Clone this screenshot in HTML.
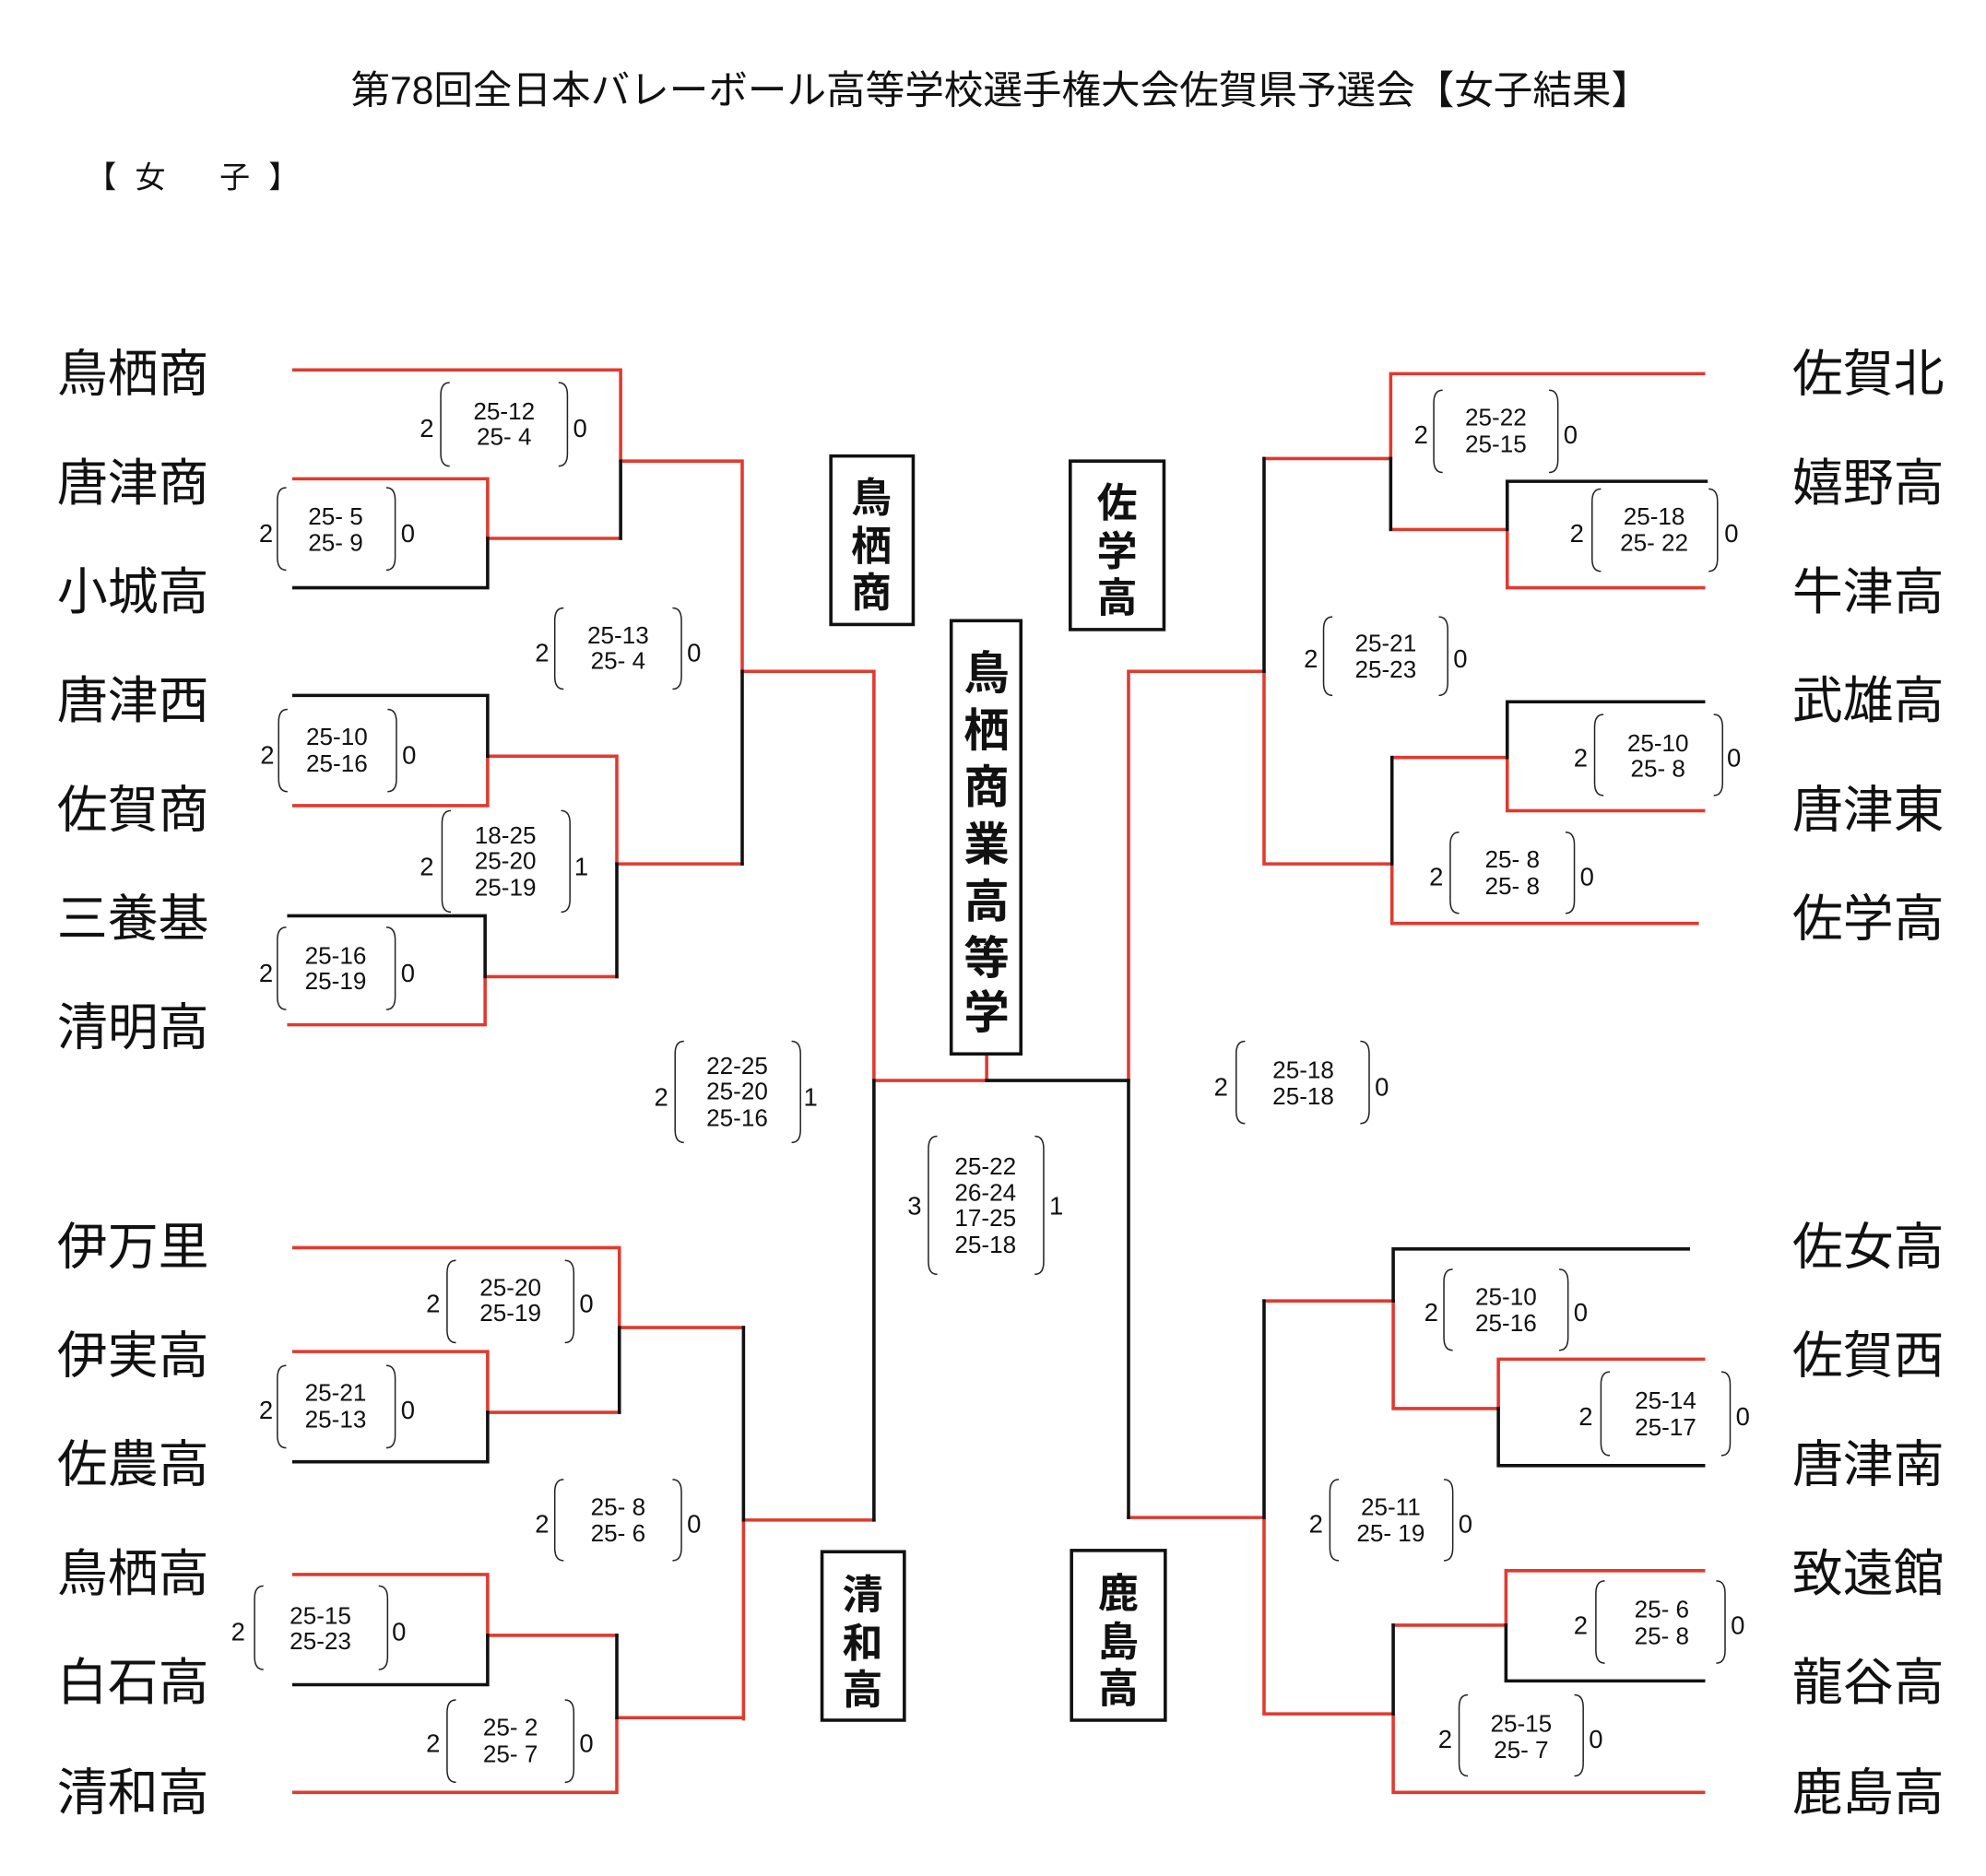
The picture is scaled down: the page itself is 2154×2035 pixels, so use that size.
<!DOCTYPE html>
<html><head><meta charset="utf-8"><style>
html,body{margin:0;padding:0;background:#fff}
svg{display:block}
text{font-family:"Liberation Sans","Noto Sans CJK JP",sans-serif;fill:#111}
.n{font-size:40px}
.s{font-size:19px}
.d{font-size:20px}
.b{font-size:32px;font-weight:bold}
.R{stroke:#e03a2f;stroke-width:2.6;fill:none;stroke-linecap:square}
.K{stroke:#111;stroke-width:2.6;fill:none;stroke-linecap:square}
.p{stroke:#222;stroke-width:1.1;fill:none}
</style></head><body>
<svg width="2154" height="2035" viewBox="0 0 1568 1481" preserveAspectRatio="none" xmlns="http://www.w3.org/2000/svg">
<text x="790" y="82" font-size="31" text-anchor="middle">第78回全日本バレーボール高等学校選手権大会佐賀県予選会【女子結果】</text>
<text x="68" y="148" font-size="24" xml:space="preserve" letter-spacing="4">【 女　 子 】</text>

<g class="n">
<text x="45" y="309">鳥栖商</text><text x="45" y="395">唐津商</text><text x="45" y="481">小城高</text><text x="45" y="567">唐津西</text><text x="45" y="653">佐賀商</text><text x="45" y="739">三養基</text><text x="45" y="825">清明高</text>
<text x="45" y="998">伊万里</text><text x="45" y="1084">伊実高</text><text x="45" y="1170">佐農高</text><text x="45" y="1256">鳥栖高</text><text x="45" y="1342">白石高</text><text x="45" y="1429">清和高</text>
<text x="1415" y="309">佐賀北</text><text x="1415" y="395">嬉野高</text><text x="1415" y="481">牛津高</text><text x="1415" y="567">武雄高</text><text x="1415" y="653">唐津東</text><text x="1415" y="739">佐学高</text>
<text x="1415" y="998">佐女高</text><text x="1415" y="1084">佐賀西</text><text x="1415" y="1170">唐津南</text><text x="1415" y="1256">致遠館</text><text x="1415" y="1342">龍谷高</text><text x="1415" y="1429">鹿島高</text>
</g>

<path class="R" d="M232 292H490V364M232 378H385V425M385 425H490M490 364H586V530M586 530H690M385 597V636M232 636H385M385 597H487V682M383 771V809M228 809H383M383 771H487M487 682H586
M690 530V853H779V832M891 530V853M891 530H998
M232 985H489V1048M232 1067H385V1115H489M489 1048H587M587 1200V1357M587 1200H690M232 1243H385V1291H487M487 1356V1415H232M487 1356H587
M1345 295H1098V362M1190 418V464H1345M1098 418H1190M998 362H1098M998 530V682M1190 598V640H1345M1099 598H1190M1099 682V729H1340M998 682H1099
M1100 1027V1112M1345 1073H1183V1112M1100 1112H1183M998 1027H1100M998 1198V1353M891 1198H998M1345 1240H1189V1283M1100 1283H1189M1100 1353V1415H1345M998 1353H1100"/>
<path class="K" d="M490 364V425M385 425V464H232M586 530V682M232 549H385V597M487 682V771M228 723H383V771
M690 853V1200M779 853H891M891 853V1198
M489 1048V1115M385 1115V1154H232M587 1048V1200M385 1291V1330H232M487 1291V1356
M1098 362V418M1347 380H1190V418M998 362V530M1345 554H1190V598M1099 598V682
M1333 986H1100V1027M1183 1112V1157H1345M998 1027V1198M1189 1283V1327H1345M1100 1283V1353"/>

<g fill="#fff" stroke="#111" stroke-width="2.6">
<rect x="656" y="360" width="65" height="133"/>
<rect x="845" y="364" width="74" height="133"/>
<rect x="751" y="490" width="55" height="342"/>
<rect x="649" y="1225" width="65" height="133"/>
<rect x="846" y="1224" width="74" height="134"/>
</g>
<g class="b" text-anchor="middle">
<text x="688" y="404">鳥</text><text x="688" y="442">栖</text><text x="688" y="479">商</text>
<text x="882" y="408">佐</text><text x="882" y="446">学</text><text x="882" y="483">高</text>
<text x="779" y="544" font-size="36">鳥</text><text x="779" y="589" font-size="36">栖</text><text x="779" y="634" font-size="36">商</text><text x="779" y="679" font-size="36">業</text><text x="779" y="724" font-size="36">高</text><text x="779" y="769" font-size="36">等</text><text x="779" y="812" font-size="36">学</text>
<text x="681" y="1270">清</text><text x="681" y="1308">和</text><text x="681" y="1345">高</text>
<text x="883" y="1269">鹿</text><text x="883" y="1307">島</text><text x="883" y="1344">高</text>
</g>

<g class="p">
<path d="M355 302Q348 302 348 312V358Q348 368 355 368M441 302Q448 302 448 312V358Q448 368 441 368"/>
<path d="M226 385Q219 385 219 395V440Q219 450 226 450M305 385Q312 385 312 395V440Q312 450 305 450"/>
<path d="M445 480Q438 480 438 490V534Q438 544 445 544M531 480Q538 480 538 490V534Q538 544 531 544"/>
<path d="M227 560Q220 560 220 570V615Q220 625 227 625M306 560Q313 560 313 570V615Q313 625 306 625"/>
<path d="M356 640Q349 640 349 650V710Q349 720 356 720M443 640Q450 640 450 650V710Q450 720 443 720"/>
<path d="M226 732Q219 732 219 742V787Q219 797 226 797M305 732Q312 732 312 742V787Q312 797 305 797"/>
<path d="M540 822Q533 822 533 832V892Q533 902 540 902M625 822Q632 822 632 832V892Q632 902 625 902"/>
<path d="M740 897Q733 897 733 907V996Q733 1006 740 1006M817 897Q824 897 824 907V996Q824 1006 817 1006"/>
<path d="M983 822Q976 822 976 832V877Q976 887 983 887M1074 822Q1081 822 1081 832V877Q1081 887 1074 887"/>
<path d="M360 995Q353 995 353 1005V1050Q353 1060 360 1060M446 995Q453 995 453 1005V1050Q453 1060 446 1060"/>
<path d="M226 1078Q219 1078 219 1088V1133Q219 1143 226 1143M305 1078Q312 1078 312 1088V1133Q312 1143 305 1143"/>
<path d="M445 1168Q438 1168 438 1178V1222Q438 1232 445 1232M531 1168Q538 1168 538 1178V1222Q538 1232 531 1232"/>
<path d="M208 1252Q201 1252 201 1262V1308Q201 1318 208 1318M299 1252Q306 1252 306 1262V1308Q306 1318 299 1318"/>
<path d="M360 1342Q353 1342 353 1352V1397Q353 1407 360 1407M446 1342Q453 1342 453 1352V1397Q453 1407 446 1407"/>
<path d="M1139 308Q1132 308 1132 318V363Q1132 373 1139 373M1223 308Q1230 308 1230 318V363Q1230 373 1223 373"/>
<path d="M1264 386Q1257 386 1257 396V441Q1257 451 1264 451M1349 386Q1356 386 1356 396V441Q1356 451 1349 451"/>
<path d="M1052 487Q1045 487 1045 497V539Q1045 549 1052 549M1136 487Q1143 487 1143 497V539Q1143 549 1136 549"/>
<path d="M1266 564Q1259 564 1259 574V618Q1259 628 1266 628M1353 564Q1360 564 1360 574V618Q1360 628 1353 628"/>
<path d="M1152 657Q1145 657 1145 667V711Q1145 721 1152 721M1236 657Q1243 657 1243 667V711Q1243 721 1236 721"/>
<path d="M1147 1002Q1140 1002 1140 1012V1056Q1140 1066 1147 1066M1231 1002Q1238 1002 1238 1012V1056Q1238 1066 1231 1066"/>
<path d="M1271 1083Q1264 1083 1264 1093V1139Q1264 1149 1271 1149M1359 1083Q1366 1083 1366 1093V1139Q1366 1149 1359 1149"/>
<path d="M1057 1168Q1050 1168 1050 1178V1222Q1050 1232 1057 1232M1140 1168Q1147 1168 1147 1178V1222Q1147 1232 1140 1232"/>
<path d="M1267 1248Q1260 1248 1260 1258V1303Q1260 1313 1267 1313M1355 1248Q1362 1248 1362 1258V1303Q1362 1313 1355 1313"/>
<path d="M1159 1338Q1152 1338 1152 1348V1392Q1152 1402 1159 1402M1243 1338Q1250 1338 1250 1348V1392Q1250 1402 1243 1402"/>
</g>

<g class="s" text-anchor="middle" xml:space="preserve">
<text x="398" y="331">25-12</text><text x="398" y="351">25- 4</text>
<text x="265" y="414">25- 5</text><text x="265" y="435">25- 9</text>
<text x="488" y="508">25-13</text><text x="488" y="528">25- 4</text>
<text x="266" y="588">25-10</text><text x="266" y="609">25-16</text>
<text x="399" y="666">18-25</text><text x="399" y="686">25-20</text><text x="399" y="707">25-19</text>
<text x="265" y="761">25-16</text><text x="265" y="781">25-19</text>
<text x="582" y="848">22-25</text><text x="582" y="868">25-20</text><text x="582" y="889">25-16</text>
<text x="778" y="927">25-22</text><text x="778" y="948">26-24</text><text x="778" y="968">17-25</text><text x="778" y="989">25-18</text>
<text x="1029" y="851">25-18</text><text x="1029" y="872">25-18</text>
<text x="403" y="1023">25-20</text><text x="403" y="1043">25-19</text>
<text x="265" y="1106">25-21</text><text x="265" y="1127">25-13</text>
<text x="488" y="1196">25- 8</text><text x="488" y="1217">25- 6</text>
<text x="253" y="1282">25-15</text><text x="253" y="1302">25-23</text>
<text x="403" y="1370">25- 2</text><text x="403" y="1391">25- 7</text>
<text x="1181" y="336">25-22</text><text x="1181" y="357">25-15</text>
<text x="1306" y="414">25-18</text><text x="1306" y="435">25- 22</text>
<text x="1094" y="514">25-21</text><text x="1094" y="535">25-23</text>
<text x="1309" y="593">25-10</text><text x="1309" y="613">25- 8</text>
<text x="1194" y="685">25- 8</text><text x="1194" y="706">25- 8</text>
<text x="1189" y="1030">25-10</text><text x="1189" y="1051">25-16</text>
<text x="1315" y="1112">25-14</text><text x="1315" y="1133">25-17</text>
<text x="1098" y="1196">25-11</text><text x="1098" y="1217">25- 19</text>
<text x="1312" y="1277">25- 6</text><text x="1312" y="1298">25- 8</text>
<text x="1201" y="1367">25-15</text><text x="1201" y="1388">25- 7</text>
</g>

<g class="d" text-anchor="middle">
<text x="337" y="345">2</text><text x="458" y="345">0</text>
<text x="210" y="428">2</text><text x="322" y="428">0</text>
<text x="428" y="522">2</text><text x="548" y="522">0</text>
<text x="211" y="603">2</text><text x="323" y="603">0</text>
<text x="337" y="691">2</text><text x="459" y="691">1</text>
<text x="210" y="775">2</text><text x="322" y="775">0</text>
<text x="522" y="873">2</text><text x="640" y="873">1</text>
<text x="722" y="959">3</text><text x="834" y="959">1</text>
<text x="964" y="865">2</text><text x="1091" y="865">0</text>
<text x="342" y="1036">2</text><text x="463" y="1036">0</text>
<text x="210" y="1120">2</text><text x="322" y="1120">0</text>
<text x="428" y="1210">2</text><text x="548" y="1210">0</text>
<text x="188" y="1295">2</text><text x="315" y="1295">0</text>
<text x="342" y="1383">2</text><text x="463" y="1383">0</text>
<text x="1122" y="350">2</text><text x="1240" y="350">0</text>
<text x="1245" y="428">2</text><text x="1367" y="428">0</text>
<text x="1035" y="527">2</text><text x="1153" y="527">0</text>
<text x="1248" y="605">2</text><text x="1369" y="605">0</text>
<text x="1134" y="699">2</text><text x="1253" y="699">0</text>
<text x="1130" y="1043">2</text><text x="1248" y="1043">0</text>
<text x="1252" y="1125">2</text><text x="1376" y="1125">0</text>
<text x="1039" y="1210">2</text><text x="1157" y="1210">0</text>
<text x="1248" y="1290">2</text><text x="1372" y="1290">0</text>
<text x="1141" y="1380">2</text><text x="1260" y="1380">0</text>
</g>
</svg>
</body></html>
